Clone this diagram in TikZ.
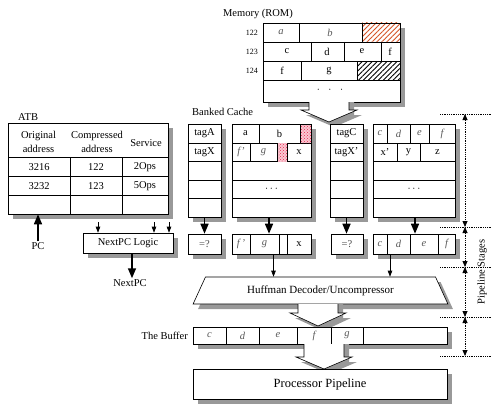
\documentclass[tikz,border=0pt]{standalone}
\usepackage{fontspec}
\setmainfont{Liberation Serif}
\usetikzlibrary{shadows,patterns,patterns.meta,shapes.geometric,arrows.meta,fit}
\definecolor{shadowgray}{gray}{0.6}
\definecolor{hatchred}{RGB}{214,84,40}
\definecolor{cellred}{RGB}{232,40,80}
\definecolor{cellpink}{RGB}{250,200,210}

\tikzset{
  txt/.style={font=\fontsize{10.5}{13.5}\selectfont, inner sep=1pt},
  rowlbl/.style={font=\fontsize{8}{9}\selectfont, inner sep=1pt},
  ital/.style={font=\fontsize{10.5}{13}\selectfont\itshape, text=black!65, inner sep=1pt},
  boxshadow/.style={drop shadow={shadow xshift=5pt, shadow yshift=-5pt, fill=shadowgray, opacity=1}},
  panel/.style={draw, fill=white, line width=0.6pt, inner sep=0pt, boxshadow},
  cellrule/.style={line width=0.6pt},
  bigarrow/.style={line width=1.6pt, -{Triangle[width=8pt,length=10pt]}},
  smallarrow/.style={line width=0.6pt, -{Triangle[width=4.5pt,length=6pt]}},
  stagearrow/.style={line width=0.8pt, dash pattern=on 0.8pt off 1pt,
    {Triangle[width=5pt,length=6pt]}-{Triangle[width=5pt,length=6pt]}},
  stageline/.style={line width=0.8pt, dash pattern=on 0.8pt off 1pt},
  hatch/.style={pattern={Lines[angle=45,distance=3.5pt,line width=0.9pt]}},
}

% wide hollow arrow pointing down: #1 centre x, #2 stem top, #3 head base, #4 tip
\newcommand\fatdown[4]{%
  \fill[shadowgray] ({#1-15},{#2}) -- ({#1-15},{#3+5}) -- ({#1-23},{#3+5}) -- ({#1+5},{#4+5})
     -- ({#1+33},{#3+5}) -- ({#1+25},{#3+5}) -- ({#1+25},{#2}) -- cycle;
  \fill[white] ({#1-20},{#2}) -- ({#1-20},{#3}) -- ({#1-28},{#3}) -- ({#1},{#4})
     -- ({#1+28},{#3}) -- ({#1+20},{#3}) -- ({#1+20},{#2}) -- cycle;
  \draw[line width=0.6pt, line join=miter] ({#1-20},{#2}) -- ({#1-20},{#3}) -- ({#1-28},{#3})
     -- ({#1},{#4}) -- ({#1+28},{#3}) -- ({#1+20},{#3}) -- ({#1+20},{#2});
}

\begin{document}
\begin{tikzpicture}[x=1pt,y=-1pt]
\useasboundingbox (0,0) rectangle (492,404);
\fill[white] (0,0) rectangle (492,404);

% ---------------- memory (ROM) ----------------
\node[txt, anchor=east] (memlbl) at (294,14) {Memory (ROM)};
\node[panel, fit={(263,23)(400,102)}] (mem) {};
\fill[hatch, pattern color=hatchred] (362,23) rectangle (400,42);
\fill[hatch, pattern color=black] (357,61) rectangle (400,80);
\draw[cellrule] (263,42) -- (400,42) (263,61) -- (400,61) (263,80) -- (400,80)
  (299,23) -- (299,42) (362,23) -- (362,42)
  (311,42) -- (311,61) (344,42) -- (344,61) (381,42) -- (381,61)
  (301,61) -- (301,80) (357,61) -- (357,80);
\draw[cellrule] (263,23) rectangle (400,102);
\node[rowlbl, anchor=east] (r122) at (259,32.5) {122};
\node[rowlbl, anchor=east] (r123) at (259,51.5) {123};
\node[rowlbl, anchor=east] (r124) at (259,70.5) {124};
\node[ital] (ma) at (281,32.5) {a};
\node[ital] (mb) at (330,32.5) {b};
\node[txt] (mc) at (287,51.5) {c};
\node[txt] (md) at (327,51.5) {d};
\node[txt] (me) at (362,51.5) {e};
\node[txt] (mf) at (390,51.5) {f};
\node[txt] (mf2) at (282,70.5) {f};
\node[txt] (mg) at (329,70.5) {g};
\node[txt] (mdots) at (330,90) {$\cdot\;\;\cdot\;\;\cdot$};

\fatdown{329}{102}{110}{122}

% ---------------- banked cache ----------------
\node[txt, anchor=west] (cachelbl) at (191,112) {Banked Cache};
\node[panel, fit={(188,124)(221,217)}] (tag1) {};
\node[panel, fit={(232,124)(311,217)}] (dat1) {};
\node[panel, fit={(330,124)(363,217)}] (tag2) {};
\node[panel, fit={(373,124)(455,217)}] (dat2) {};
\foreach \y in {143,161.5,180,198.5}{
  \draw[cellrule] (188,\y) -- (221,\y) (232,\y) -- (311,\y)
                  (330,\y) -- (363,\y) (373,\y) -- (455,\y);
}
% marked cells of bank 1
\fill[cellpink] (300,124) rectangle (311,143);
\fill[pattern=crosshatch dots, pattern color=cellred] (300,124) rectangle (311,143);
\fill[cellpink] (277,143) rectangle (287,161.5);
\fill[pattern=crosshatch dots, pattern color=cellred] (277,143) rectangle (287,161.5);
\draw[cellrule] (259,124) -- (259,143) (300,124) -- (300,143)
  (250,143) -- (250,161.5) (277,143) -- (277,161.5) (287,143) -- (287,161.5)
  (387,124) -- (387,143) (410,124) -- (410,143) (429,124) -- (429,143)
  (397,143) -- (397,161.5) (420,143) -- (420,161.5);
\draw[cellrule] (232,124) rectangle (311,217);

\node[txt] (tA) at (204.5,133.5) {tagA};
\node[txt] (tX) at (204.5,152.2) {tagX};
\node[txt] (tC) at (346.5,133.5) {tagC};
\node[txt] (tX2) at (346.5,152.2) {tagX'};
\node[txt] (ba) at (245.5,133.5) {a};
\node[txt] (bb) at (279.5,133.5) {b};
\node[ital] (bf) at (241,152.2) {f'};
\node[ital] (bg) at (263.5,152.2) {g};
\node[txt] (bx) at (299,152.2) {x};
\node[txt] (bdots1) at (271.5,189) {$\cdots$};
\node[ital] (b2c) at (380,133.5) {c};
\node[ital] (b2d) at (398.5,133.5) {d};
\node[ital] (b2e) at (419.5,133.5) {e};
\node[ital] (b2f) at (442,133.5) {f};
\node[txt] (b2x) at (385,152.2) {x'};
\node[txt] (b2y) at (408.5,152.2) {y};
\node[txt] (b2z) at (437.5,152.2) {z};
\node[txt] (bdots2) at (414,189) {$\cdots$};

% ---------------- compare boxes and output registers ----------------
\node[panel, fit={(188,234)(221,254)}] (eq1) {};
\node[panel, fit={(232,234)(311,254)}] (reg1) {};
\node[panel, fit={(331,234)(363,254)}] (eq2) {};
\node[panel, fit={(373,234)(455,254)}] (reg2) {};
\node[txt, text=black!70] (eq1t) at (eq1) {=?};
\node[txt, text=black!70] (eq2t) at (eq2) {=?};
\draw[cellrule] (250,234) -- (250,254) (279,234) -- (279,254) (287,234) -- (287,254)
  (387,234) -- (387,254) (410,234) -- (410,254) (438,234) -- (438,254);
\node[ital] (rf) at (241,244) {f\,'};
\node[ital] (rg) at (264.5,244) {g};
\node[txt] (rx) at (299,244) {x};
\node[ital] (r2c) at (380,244) {c};
\node[ital] (r2d) at (398.5,244) {d};
\node[ital] (r2e) at (424,244) {e};
\node[ital] (r2f) at (446.5,244) {f};

\coordinate (d1out) at ([xshift=-2.5pt]dat1.south);
\coordinate (d2out) at ([xshift=1pt]dat2.south);
\draw[bigarrow] (tag1.south) -- (eq1.north);
\draw[bigarrow] (d1out) -- (d1out |- reg1.north);
\draw[bigarrow] (tag2.south) -- (tag2.south |- eq2.north);
\draw[bigarrow] (d2out) -- (d2out |- reg2.north);

% ---------------- decoder, buffer, pipeline ----------------
\node[panel, trapezium, trapezium left angle=52, trapezium right angle=52,
      trapezium stretches=true, minimum width=255pt, minimum height=27pt,
      font=\fontsize{11}{13}\selectfont] (huff) at (320.5,290.5) {Huffman Decoder/Uncompressor};
\coordinate (r1out) at ([xshift=2pt]reg1.south);
\coordinate (r2out) at ([xshift=-24pt]reg2.south);
\draw[smallarrow] (r1out) -- (r1out |- huff.north);
\draw[smallarrow] (r2out) -- (r2out |- huff.north);

\fatdown{318}{304}{313}{326}

\node[txt, anchor=east] (buflbl) at (189,335.5) {The Buffer};
\node[panel, fit={(193,327)(447,344)}] (buf) {};
\draw[cellrule] (226,327) -- (226,344) (259,327) -- (259,344) (297,327) -- (297,344)
  (331,327) -- (331,344) (363,327) -- (363,344);
\node[ital] (uc) at (209.5,335.5) {c};
\node[ital] (ud) at (242.5,335.5) {d};
\node[ital] (ue) at (278,335.5) {e};
\node[ital] (uf) at (314,335.5) {f};
\node[ital] (ug) at (347,335.5) {g};

\fatdown{324}{344}{357}{369}

\node[panel, fit={(193,369)(447,399)}] (proc) {};
\node[font=\fontsize{12.5}{14}\selectfont] (proct) at (proc) {Processor Pipeline};

% ---------------- ATB ----------------
\node[txt, anchor=west] (atblbl) at (17,117) {ATB};
\node[panel, fit={(8,123)(168,214)}] (atb) {};
\draw[cellrule] (8,157) -- (168,157) (8,176) -- (168,176) (8,195) -- (168,195)
  (70,157) -- (70,214) (122,157) -- (122,214);
\node[txt, align=center] (h1) at (38.5,142) {Original\\address};
\node[txt, align=center] (h2) at (97,142) {Compressed\\address};
\node[txt] (h3) at (146,143) {Service};
\node[txt] (v11) at (39,167) {3216};
\node[txt] (v12) at (96,167) {122};
\node[txt] (v13) at (145,167) {2Ops};
\node[txt] (v21) at (39,186) {3232};
\node[txt] (v22) at (96,186) {123};
\node[txt] (v23) at (145,186) {5Ops};

\node[txt] (pc) at (38,246) {PC};
\draw[bigarrow] (pc.north) -- (pc.north |- atb.south);

\node[panel, fit={(83,233)(173,253)}] (npc) {};
\node[txt] (npct) at (npc) {NextPC Logic};
\coordinate (in1) at (98,222);
\coordinate (in2) at (154,222);
\coordinate (in3) at (169,222);
\draw[smallarrow] (in1) -- (in1 |- npc.north);
\draw[smallarrow] (in2) -- (in2 |- npc.north);
\draw[smallarrow] (in3) -- (in3 |- npc.north);
\node[txt] (nextpc) at (130,283) {NextPC};
\coordinate (npcout) at ([xshift=4pt]npc.south);
\draw[bigarrow] (npcout) -- (npcout |- nextpc.north);

% ---------------- pipeline stages ----------------
\foreach \y in {114,227,267,317,356}{
  \draw[stageline] (440,\y) -- (492,\y);
}
\coordinate (s0) at (465,114);
\coordinate (s1) at (465,227);
\coordinate (s2) at (465,267);
\coordinate (s3) at (465,317);
\coordinate (s4) at (465,356);
\draw[stagearrow] (s0) -- (s1);
\draw[stagearrow] (s1) -- (s2);
\draw[stagearrow] (s2) -- (s3);
\draw[stagearrow] (s3) -- (s4);
\node[txt, rotate=90] (stages) at (482,272) {Pipeline Stages};
\end{tikzpicture}
\end{document}
